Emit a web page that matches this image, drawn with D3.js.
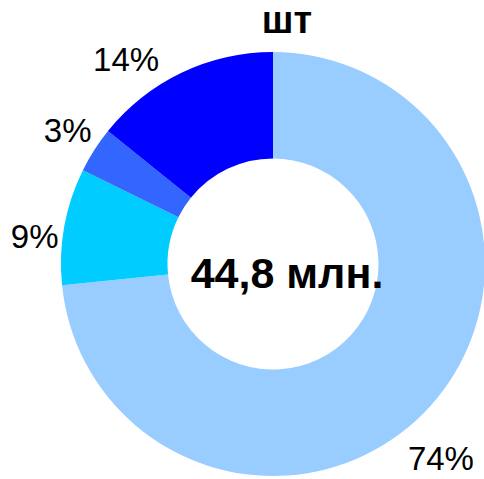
<!DOCTYPE html>
<html>
<head>
  <meta charset="utf-8">
  <title>шт</title>
  <style>
  body { margin: 0; background: #fff; }
  svg { display: block; font-family: "Liberation Sans", Arial, sans-serif; }
  </style>
</head>
<body>
  <svg width="484" height="479"></svg>
  <script src="https://d3js.org/d3.v7.min.js"></script>
  <script>
  // данные (доли, подписи как на картинке)
  var categories = ["a", "b", "c", "d"];
  var shares = [73.4, 8.9, 3.5, 14.2];
  var labels = ["74%", "9%", "3%", "14%"];
  var colors = ["#99CCFF", "#00CCFF", "#3366FF", "#0000FF"];
  var title = "шт";
  var total = "44,8 млн.";

  // ручная подгонка подписей (смещение угла в градусах, радиус)
  var labelNudge = [[7.0, 256.6], [-3.5, 240], [0.5, 245], [-10.1, 252]];

  var svg = d3.select("svg"),
      cx = 273, cy = 264,
      outerR = 212, innerR = 105.5,
      g = svg.append("g").attr("transform", "translate(" + cx + "," + cy + ")");

  var pie = d3.pie()
    .sort(null)
    .value(function(d, i) { return shares[i]; });

  var arc = d3.arc()
    .innerRadius(innerR)
    .outerRadius(outerR);

  var arcs = pie(categories);

  g.selectAll("path")
    .data(arcs)
    .enter().append("path")
    .attr("fill", function(d, i) { return colors[i]; })
    .attr("d", arc);

  // подписи процентов
  g.selectAll("text.lbl")
    .data(arcs)
    .enter().append("text")
    .attr("class", "lbl")
    .attr("text-anchor", "middle")
    .attr("dy", "0.36em")
    .attr("font-size", 33)
    .attr("fill", "#000")
    .attr("transform", function(d, i) {
      var a = (d.startAngle + d.endAngle) / 2 + labelNudge[i][0] * Math.PI / 180;
      var r = labelNudge[i][1];
      return "translate(" + (r * Math.sin(a)) + "," + (-r * Math.cos(a)) + ")";
    })
    .text(function(d, i) { return labels[i]; });

  // центр
  g.append("text")
    .attr("x", 14)
    .attr("y", 24)
    .attr("text-anchor", "middle")
    .attr("font-size", 43)
    .attr("font-weight", "bold")
    .text(total);

  // заголовок
  svg.append("text")
    .attr("x", 287)
    .attr("y", 33)
    .attr("text-anchor", "middle")
    .attr("font-size", 38)
    .attr("font-weight", "bold")
    .text(title);
  </script>
</body>
</html>
